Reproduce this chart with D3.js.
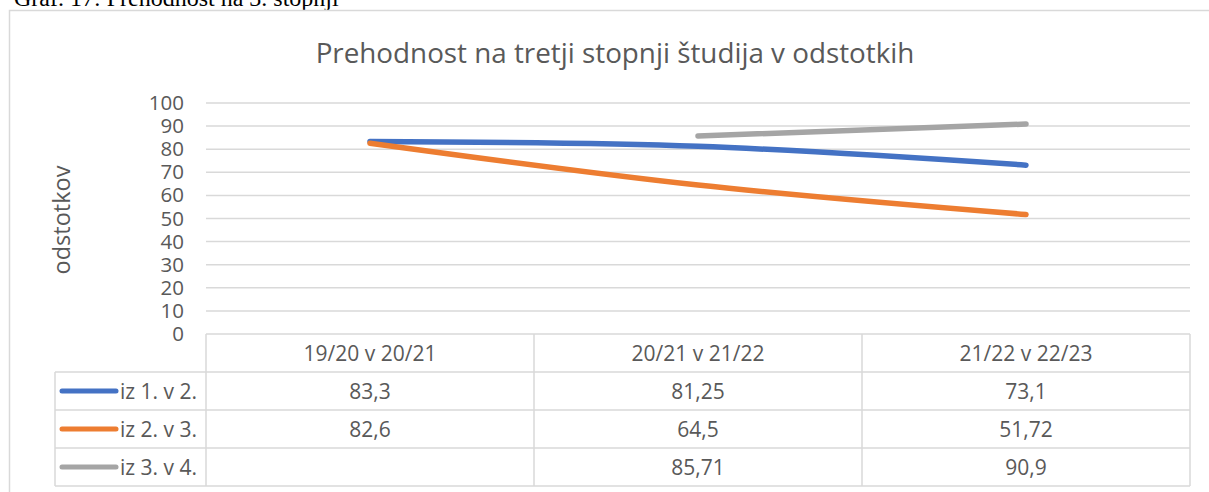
<!DOCTYPE html>
<html>
<head>
<meta charset="utf-8">
<script src="https://cdnjs.cloudflare.com/ajax/libs/d3/7.8.5/d3.min.js"></script>
<style>
  body { margin: 0; background: #fff; }
  svg { display: block; }
</style>
</head>
<body>
<div id="chart"></div>
<script>
// data
var categories = ['19/20 v 20/21', '20/21 v 21/22', '21/22 v 22/23'];
var seriesNames = ['iz 1. v 2.', 'iz 2. v 3.', 'iz 3. v 4.'];
var seriesColors = ['#4472C4', '#ED7D31', '#A5A5A5'];
var iz1v2 = [83.3, 81.25, 73.1];
var iz2v3 = [82.6, 64.5, 51.72];
var iz3v4 = [null, 85.71, 90.9];
var yTicks = [0, 10, 20, 30, 40, 50, 60, 70, 80, 90, 100];

var series = [iz1v2, iz2v3, iz3v4];

var W = 1209, H = 492;
var plotLeft = 206, plotRight = 1190, plotTop = 103, plotBottom = 334;
var rowH = 38, legendLeft = 55;
var grey = '#d9d9d9', textCol = '#595959';
var fontF = '"Open Sans", "Noto Sans", sans-serif';
var tblFont = 21;

var svg = d3.select('#chart').append('svg')
  .attr('width', W).attr('height', H);

// caption above the chart (cut off at the top of the picture, as in the source)
svg.append('text')
  .attr('x', 14).attr('y', 6)
  .attr('font-family', '"Liberation Serif", serif')
  .attr('font-size', 24)
  .attr('fill', '#000')
  .text('Graf. 17: Prehodnost na 3. stopnji');

// chart frame
svg.append('rect')
  .attr('x', 9.5).attr('y', 10.5)
  .attr('width', 1210).attr('height', 500)
  .attr('fill', '#fff')
  .attr('stroke', grey).attr('stroke-width', 1.5);

svg.append('text')
  .attr('x', 615).attr('y', 63)
  .attr('text-anchor', 'middle')
  .attr('font-family', fontF)
  .attr('font-size', 27.8)
  .attr('fill', textCol)
  .text('Prehodnost na tretji stopnji študija v odstotkih');

var x = d3.scaleBand().domain(categories).range([plotLeft, plotRight]);
var y = d3.scaleLinear().domain([0, 100]).range([plotBottom, plotTop]);

// grid
svg.append('g').selectAll('line')
  .data(yTicks.filter(function(d){ return d > 0; }))
  .join('line')
  .attr('x1', plotLeft).attr('x2', plotRight)
  .attr('y1', function(d){ return y(d); })
  .attr('y2', function(d){ return y(d); })
  .attr('stroke', grey).attr('stroke-width', 1.5);

// y axis labels
var yAxis = d3.axisLeft(y).tickValues(yTicks).tickSize(0).tickPadding(0);
var ya = svg.append('g')
  .attr('transform', 'translate(184,0)')
  .call(yAxis);
ya.select('.domain').remove();
ya.selectAll('text')
  .attr('font-family', fontF)
  .attr('font-size', 20.5)
  .attr('fill', textCol);

svg.append('text')
  .attr('transform', 'translate(70,220) rotate(-90)')
  .attr('text-anchor', 'middle')
  .attr('font-family', fontF)
  .attr('font-size', 23.5)
  .attr('fill', textCol)
  .text('odstotkov');

// lines
var line = d3.line()
  .defined(function(d){ return d.v != null; })
  .x(function(d){ return x(d.c) + x.bandwidth() / 2; })
  .y(function(d){ return y(d.v); })
  .curve(d3.curveCatmullRom.alpha(0));

series.forEach(function(vals, i) {
  var pts = categories.map(function(c, j){ return {c: c, v: vals[j]}; });
  svg.append('path')
    .datum(pts)
    .attr('d', line)
    .attr('fill', 'none')
    .attr('stroke', seriesColors[i])
    .attr('stroke-width', 5.5)
    .attr('stroke-linecap', 'round')
    .attr('stroke-linejoin', 'round');
});

// data table
var tbl = svg.append('g');
var tableBottom = plotBottom + rowH * (series.length + 1);

// horizontal lines
tbl.append('line')
  .attr('x1', plotLeft).attr('x2', plotRight)
  .attr('y1', plotBottom).attr('y2', plotBottom)
  .attr('stroke', grey).attr('stroke-width', 1.5);
d3.range(1, series.length + 2).forEach(function(r) {
  tbl.append('line')
    .attr('x1', legendLeft).attr('x2', plotRight)
    .attr('y1', plotBottom + r * rowH).attr('y2', plotBottom + r * rowH)
    .attr('stroke', grey).attr('stroke-width', 1.5);
});
// vertical lines
tbl.append('line')
  .attr('x1', legendLeft).attr('x2', legendLeft)
  .attr('y1', plotBottom + rowH).attr('y2', tableBottom)
  .attr('stroke', grey).attr('stroke-width', 1.5);
categories.concat(['end']).forEach(function(c, j) {
  var xx = j < categories.length ? x(c) : plotRight;
  tbl.append('line')
    .attr('x1', xx).attr('x2', xx)
    .attr('y1', plotBottom).attr('y2', tableBottom)
    .attr('stroke', grey).attr('stroke-width', 1.5);
});

// header
tbl.selectAll('text.cat')
  .data(categories)
  .join('text')
  .attr('class', 'cat')
  .attr('x', function(d){ return x(d) + x.bandwidth() / 2; })
  .attr('y', plotBottom + rowH / 2 + 7.5)
  .attr('text-anchor', 'middle')
  .attr('font-family', fontF)
  .attr('font-size', tblFont)
  .attr('fill', textCol)
  .text(function(d){ return d; });

var fmt = function(v){ return v == null ? '' : String(v).replace('.', ','); };

series.forEach(function(vals, i) {
  var cy = plotBottom + rowH * (i + 1) + rowH / 2;
  tbl.append('line')
    .attr('x1', 62).attr('x2', 116)
    .attr('y1', cy).attr('y2', cy)
    .attr('stroke', seriesColors[i])
    .attr('stroke-width', 5)
    .attr('stroke-linecap', 'round');
  tbl.append('text')
    .attr('x', 120).attr('y', cy + 7.5)
    .attr('font-family', fontF)
    .attr('font-size', tblFont)
    .attr('fill', textCol)
    .text(seriesNames[i]);
  categories.forEach(function(c, j) {
    tbl.append('text')
      .attr('x', x(c) + x.bandwidth() / 2)
      .attr('y', cy + 7.5)
      .attr('text-anchor', 'middle')
      .attr('font-family', fontF)
      .attr('font-size', tblFont)
      .attr('fill', textCol)
      .text(fmt(vals[j]));
  });
});
</script>
</body>
</html>
